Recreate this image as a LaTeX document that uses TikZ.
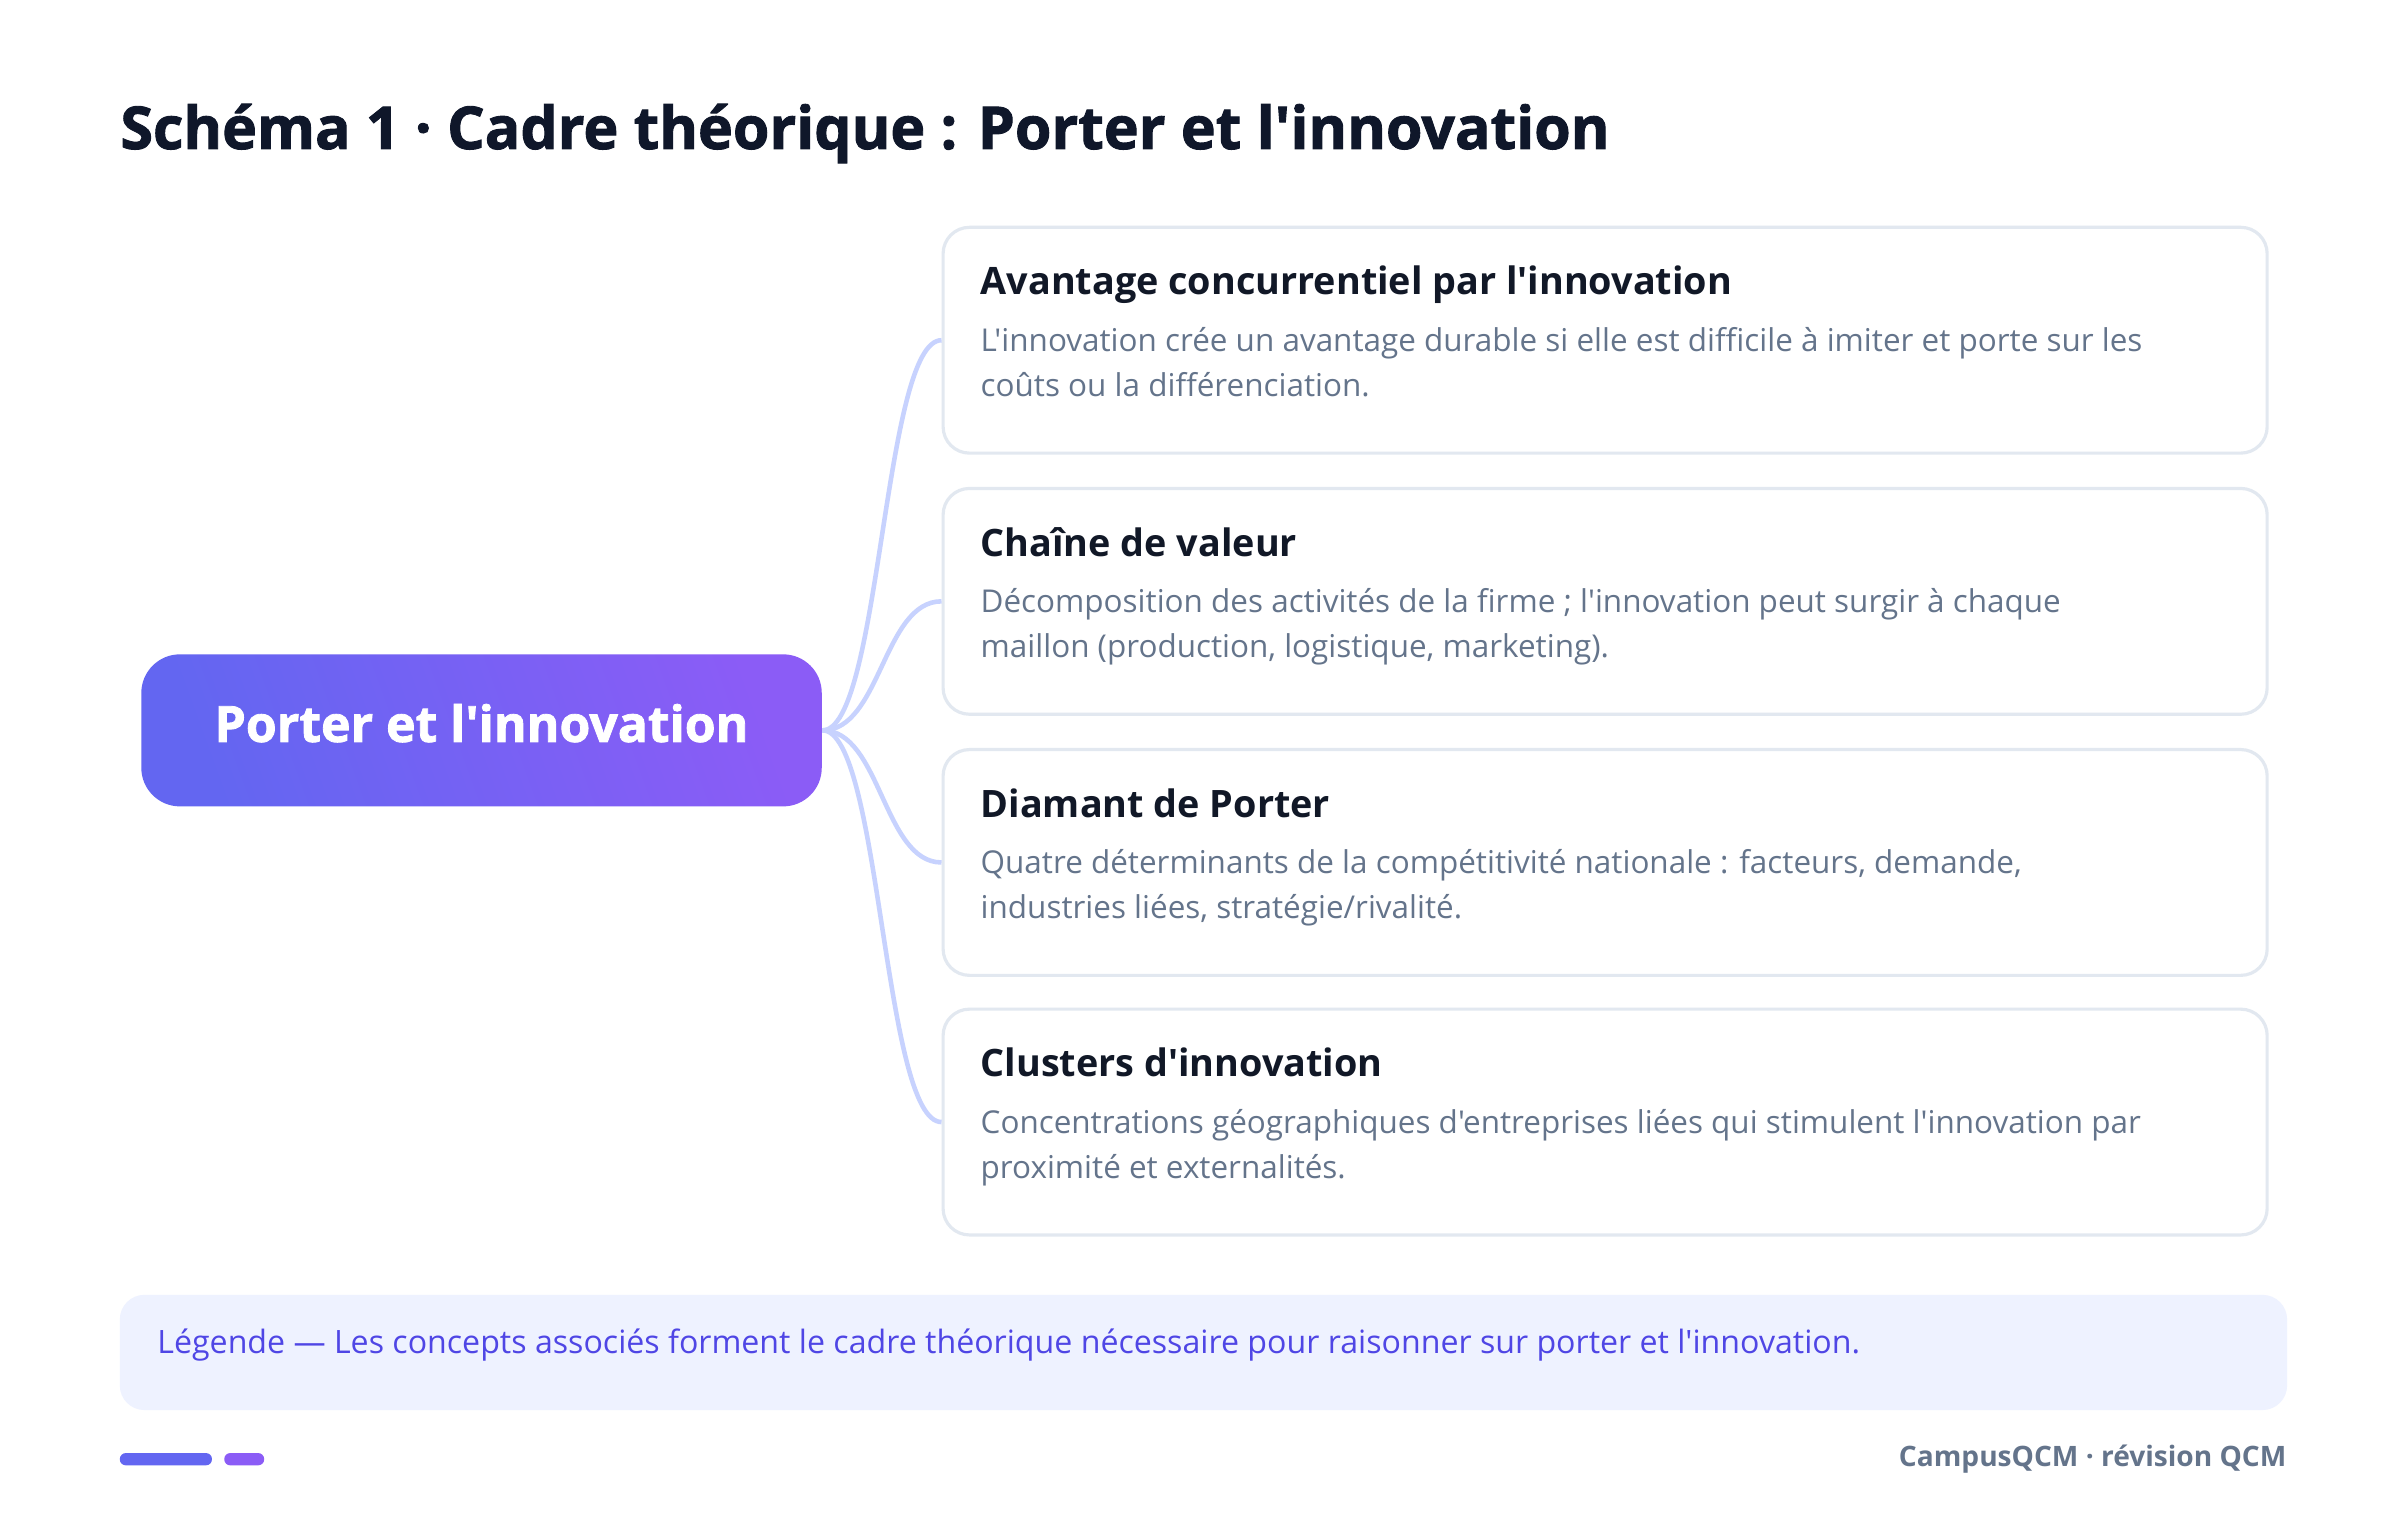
\documentclass[tikz,border=0pt]{standalone}
\usepackage{fontspec}
\setmainfont{Open Sans}[Ligatures=TeXOff]
\newfontfamily\heavyfont{Open Sans}[Ligatures=TeXOff, BoldFeatures={FakeBold=1.6}]
\usetikzlibrary{positioning,fit}

\definecolor{ink}{HTML}{0F172A}
\definecolor{cardink}{HTML}{111827}
\definecolor{muted}{HTML}{64748B}
\definecolor{cardline}{HTML}{E2E8F0}
\definecolor{linkcol}{HTML}{C7D2FE}
\definecolor{hubA}{HTML}{6366F1}
\definecolor{hubB}{HTML}{8B5CF6}
\definecolor{legfill}{HTML}{EEF2FF}
\definecolor{legink}{HTML}{4F46E5}

\begin{document}
\begin{tikzpicture}[x=0.01536cm,y=-0.01536cm]
  \tikzset{card/.style = {draw=cardline, line width=0.9pt, fill=white, rounded corners=7.5pt, inner sep=0pt},
    hub/.style = {rounded corners=11pt, inner sep=0pt, left color=hubA, right color=hubB, shading angle=110},
    hubtext/.style = {inner sep=0pt, text=white, font=\fontsize{14.2}{17}\selectfont\heavyfont\bfseries},
    cardtitle/.style = {inner sep=0pt, text=cardink, font=\fontsize{10.75}{13}\selectfont\bfseries},
    carddesc/.style = {inner sep=0pt, align=left, text=muted, font=\fontsize{8.95}{12.7}\selectfont},
    link/.style = {draw=linkcol, line width=1.3pt}}
  \useasboundingbox (0,0) rectangle (1562.5,987);
  \fill[white] (0,0) rectangle (1562.5,987);

  \node[anchor=base west, inner sep=0pt, text=ink, font=\fontsize{16.8}{20}\selectfont\heavyfont\bfseries] (titre) at (78,97)
    {Schéma 1 · Cadre théorique : Porter et l'innovation};

  \node[hub, fit={(92,426) (535,525)}] (hub) {};
  \node[hubtext, anchor=base] (hublabel) at (313.5,483) {Porter et l'innovation};

  \foreach \i/\y/\nom/\texte in {
    1/148/{Avantage concurrentiel par l'innovation}/{L'innovation crée un avantage durable si elle est difficile à imiter et porte sur les\\coûts ou la différenciation.},
    2/318/{Chaîne de valeur}/{Décomposition des activités de la firme ; l'innovation peut surgir à chaque\\maillon (production, logistique, marketing).},
    3/488/{Diamant de Porter}/{Quatre déterminants de la compétitivité nationale : facteurs, demande,\\industries liées, stratégie/rivalité.},
    4/657/{Clusters d'innovation}/{Concentrations géographiques d'entreprises liées qui stimulent l'innovation par\\proximité et externalités.}} {
    \node[card, fit={(614,\y) (1476,\y+147)}] (c\i) {};
    \node[cardtitle, anchor=base west] (t\i) at (638,\y+44) {\nom};
    \node[carddesc, anchor=base west] (d\i) at (638,\y+110) {\texte};
    \draw[link] (hub.east) .. controls +(38,0) and +(-38,0) .. (c\i.west);
  }

  % legende
  \node[fill=legfill, rounded corners=7pt, inner sep=0pt, fit={(78,843) (1489,918)}] (legende) {};
  \node[anchor=west, inner sep=0pt, text=legink, font=\fontsize{9.15}{11}\selectfont] (legtexte) at (102,876)
    {Légende — Les concepts associés forment le cadre théorique nécessaire pour raisonner sur porter et l'innovation.};

  % pied de page
  \node[fill=hubA, rounded corners=1.7pt, inner sep=0pt, fit={(78,946) (138,954)}] (barreA) {};
  \node[fill=hubB, rounded corners=1.7pt, inner sep=0pt, fit={(146,946) (172,954)}] (barreB) {};
  \node[anchor=east, inner sep=0pt, text=muted, font=\fontsize{8.0}{10}\selectfont\bfseries] (pied) at (1489,950)
    {CampusQCM · révision QCM};
\end{tikzpicture}
\end{document}
